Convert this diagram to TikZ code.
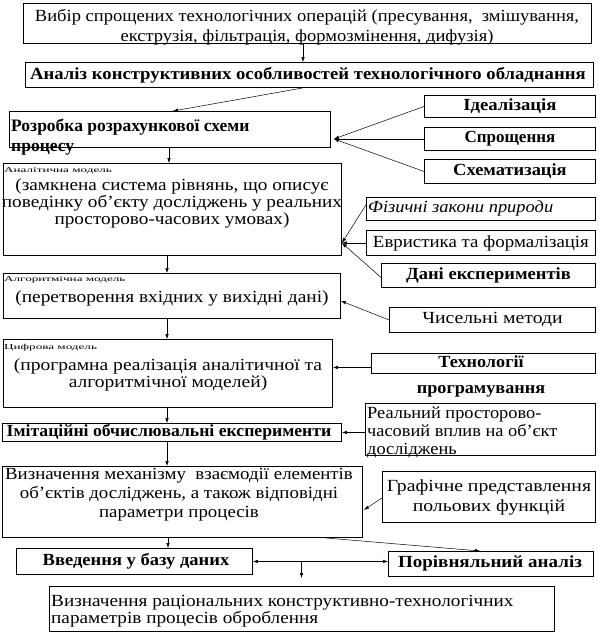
\documentclass[tikz,border=0pt]{standalone}
\usepackage{fontspec}
\setmainfont{Liberation Serif}
\usetikzlibrary{arrows.meta,calc}
\newcommand\myf[3]{\fontsize{#1}{#2}\selectfont\addfontfeatures{FakeStretch=#3}}
\newcommand\mybf[3]{\fontsize{#1}{#2}\selectfont\bfseries\addfontfeatures{FakeStretch=#3}}
\newcommand\myit[3]{\fontsize{#1}{#2}\selectfont\itshape\addfontfeatures{FakeStretch=#3}}
\tikzset{
  box/.style={draw, line width=0.9pt, inner sep=0pt, anchor=north west},
  txt/.style={inner sep=0pt, align=center},
  lbl/.style={inner sep=0pt, anchor=west, font=\myf{7.5}{8}{1.75}},
  arr/.style={-{Latex[length=5pt,width=3.5pt]}, line width=0.5pt},
  darr/.style={{Latex[length=5pt,width=3.5pt]}-{Latex[length=5pt,width=3.5pt]}, line width=0.5pt},
}
\begin{document}
\begin{tikzpicture}[x=1pt,y=-1pt]
\useasboundingbox[fill=white] (0,0) rectangle (598,632);
% left column boxes
\node[box, minimum width=568pt, minimum height=40pt] (b1) at (23,3) {};
\node[box, minimum width=568pt, minimum height=25pt] (b2) at (25,62) {};
\node[box, minimum width=321pt, minimum height=36pt] (b3) at (9,111) {};
\node[box, minimum width=338pt, minimum height=92pt] (b4) at (3,163) {};
\node[box, minimum width=337pt, minimum height=45pt] (b5) at (3,273) {};
\node[box, minimum width=329pt, minimum height=68pt] (b6) at (3,339) {};
\node[box, minimum width=339pt, minimum height=18pt] (b7) at (2,423) {};
\node[box, minimum width=360pt, minimum height=71pt] (b8) at (2,466) {};
\node[box, minimum width=236pt, minimum height=26pt] (b9) at (16,548) {};
\node[box, minimum width=505pt, minimum height=45pt] (b10) at (49,586) {};
% right column boxes
\node[box, minimum width=171pt, minimum height=22pt] (r1) at (424,95) {};
\node[box, minimum width=171pt, minimum height=23pt] (r2) at (424,127) {};
\node[box, minimum width=171pt, minimum height=24pt] (r3) at (424,159) {};
\node[box, minimum width=229pt, minimum height=23pt] (r4) at (366,197) {};
\node[box, minimum width=229pt, minimum height=25pt] (r5) at (366,230) {};
\node[box, minimum width=214pt, minimum height=24pt] (r6) at (381,263) {};
\node[box, minimum width=206pt, minimum height=25pt] (r7) at (389,307) {};
\node[box, minimum width=224pt, minimum height=20pt] (r8) at (371,353) {};
\node[box, minimum width=230pt, minimum height=52pt] (r9) at (365,403) {};
\node[box, minimum width=213pt, minimum height=51pt] (r10) at (382,471) {};
\node[box, minimum width=205pt, minimum height=25pt] (r11) at (388,551) {};
% texts
\node[txt, font=\myf{17}{20}{1.09}] (t1) at (307,27) {Вибір спрощених технологічних операцій (пресування,\ \ змішування,\\екструзія, фільтрація, формозмінення, дифузія)};
\node[txt, font=\mybf{17}{20}{1.10}] (t2) at (308,75) {Аналіз конструктивних особливостей технологічного обладнання};
\node[txt, anchor=west, align=left, font=\mybf{17.5}{20}{1.0}] (t3) at (11,137) {Розробка розрахункової схеми\\процесу};
\node[lbl] (l4) at (4,171) {Аналітична модель};
\node[txt, font=\myf{17}{17}{1.13}] (t4) at (172,203) {(замкнена система рівнянь, що описує\\поведінку об’єкту досліджень у реальних\\просторово-часових умовах)};
\node[lbl] (l5) at (4,280) {Алгоритмічна модель};
\node[txt, font=\myf{17}{17}{1.14}] (t5) at (172,298) {(перетворення вхідних у вихідні дані)};
\node[lbl] (l6) at (4,348) {Цифрова модель};
\node[txt, font=\myf{17}{17}{1.15}] (t6) at (168,375) {(програмна реалізація аналітичної та\\алгоритмічної моделей)};
\node[txt, font=\mybf{17}{17}{1.04}] (t7) at (169,432) {Імітаційні обчислювальні експерименти};
\node[txt, font=\myf{17}{19}{1.11}] (t8) at (179,495) {Визначення механізму\ \ взаємодії елементів\\об’єктів досліджень, а також відповідні\\параметри процесів};
\node[txt, font=\mybf{17}{17}{1.09}] (t9) at (136,561) {Введення у базу даних};
\node[txt, anchor=west, align=left, font=\myf{17}{17}{1.13}] (t10) at (51,611) {Визначення раціональних конструктивно-технологічних\\параметрів процесів оброблення};
\node[txt, font=\mybf{17}{17}{1.10}] (tr1) at (r1.center) {Ідеалізація};
\node[txt, font=\mybf{17}{17}{1.00}] (tr2) at (r2.center) {Спрощення};
\node[txt, font=\mybf{17}{17}{1.085}] (tr3) at (r3.center) {Схематизація};
\node[txt, anchor=west, font=\myit{17}{17}{1.085}] (tr4) at (368,208) {Фізичні закони природи};
\node[txt, font=\myf{17}{17}{1.11}] (tr5) at (r5.center) {Евристика та формалізація};
\node[txt, font=\mybf{17}{17}{1.09}] (tr6) at (r6.center) {Дані експериментів};
\node[txt, font=\myf{17}{17}{1.16}] (tr7) at (r7.center) {Чисельні методи};
\node[txt, font=\mybf{17}{26}{1.07}] (tr8) at (481,376) {Технології\\програмування};
\node[txt, anchor=west, align=left, font=\myf{17}{18}{1.08}] (tr9) at (367,432) {Реальний просторово-\\часовий вплив на об’єкт\\досліджень};
\node[txt, font=\myf{17}{20}{1.16}] (tr10) at (r10.center) {Графічне представлення\\польових функцій};
\node[txt, font=\mybf{17}{17}{1.12}] (tr11) at (490,563) {Порівняльний аналіз};
% helper coordinates
\coordinate (c3) at ($(b3.east |- r2.west)+(3,0)$);
\coordinate (c4) at (b4.east |- r5.west);
\coordinate (c5) at ($(b5.east)+(0,5)$);
\coordinate (c6) at ($(b6.east |- r8.west)+(0,4)$);
\coordinate (c8) at ($(b8.east)+(1,8)$);
\coordinate (cm) at ($(b9.east)!0.36!(r11.west |- b9.east)$);
% connectors
\draw[arr] ([xshift=280pt]b1.south west) -- ([xshift=278pt]b2.north west);
\draw[arr] ([xshift=278pt]b2.south west) -- ([xshift=164pt]b3.north west);
\draw[arr] ([xshift=160pt]b3.south west) -- ([xshift=166pt]b4.north west);
\draw[arr] (r1.west) -- (c3);
\draw[arr] (r2.west) -- (c3);
\draw[arr] (r3.west) -- (c3);
\draw[arr] ($(r4.west)+(0,-4)$) -- (c4);
\draw[arr] (r5.west) -- (c4);
\draw[arr] ($(r6.west)+(0,2)$) -- (c4);
\draw[arr] (r7.west) -- (c5);
\draw[arr] ($(r8.west)+(0,4)$) -- (c6);
\draw[arr] (r9.west |- b7.east) -- (b7.east);
\draw[arr] ($(r10.west)+(0,1)$) -- (c8);
\draw[arr] ([xshift=164pt]b4.south west) -- ([xshift=164pt]b5.north west);
\draw[arr] ([xshift=164pt]b5.south west) -- ([xshift=164pt]b6.north west);
\draw[arr] ([xshift=164pt]b6.south west) -- ([xshift=165pt]b7.north west);
\draw[arr] ([xshift=165pt]b7.south west) -- ([xshift=165pt]b8.north west);
\draw[arr] ([xshift=166pt]b8.south west) -- ([xshift=152pt]b9.north west);
\draw[arr] ([xshift=323pt]b8.south west) -- ([xshift=92pt]r11.north west);
\draw[darr] (b9.east) -- (r11.west |- b9.east);
\draw[arr, shorten >=8pt] (cm) -- (cm |- b10.north);
\end{tikzpicture}
\end{document}
